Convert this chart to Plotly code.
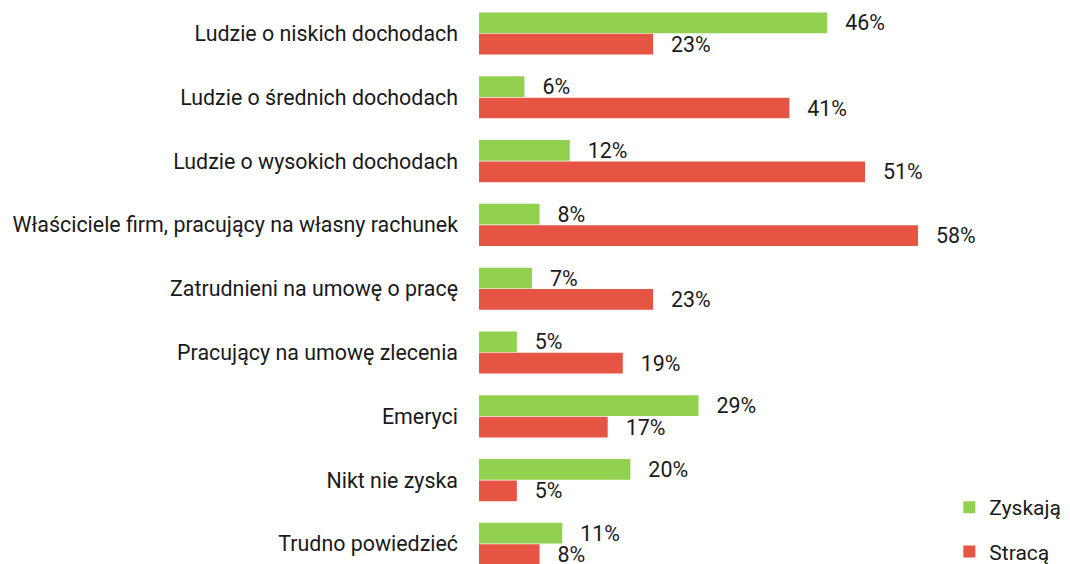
import plotly.graph_objects as go

categories = [
    "Ludzie o niskich dochodach",
    "Ludzie o średnich dochodach",
    "Ludzie o wysokich dochodach",
    "Właściciele firm, pracujący na własny rachunek",
    "Zatrudnieni na umowę o pracę",
    "Pracujący na umowę zlecenia",
    "Emeryci",
    "Nikt nie zyska",
    "Trudno powiedzieć",
]
zyskaja = [46, 6, 12, 8, 7, 5, 29, 20, 11]
straca = [23, 41, 51, 58, 23, 19, 17, 5, 8]

GREEN = "#92D050"
RED = "#E65443"
FONT = "Roboto"
FS = 21.4
pad = "\u00a0\u00a0\u2009"

fig = go.Figure()
fig.add_trace(go.Bar(
    y=categories, x=zyskaja, orientation="h", name="Zyskają",
    marker=dict(color=GREEN, line=dict(width=0)),
    text=[f"{pad}{v}%" for v in zyskaja], textposition="outside",
    constraintext="none",
    textfont=dict(family=FONT, size=FS, color="#1a1a1a"),
    cliponaxis=False, legendgroup="a",
))
fig.add_trace(go.Bar(
    y=categories, x=straca, orientation="h", name="Stracą",
    marker=dict(color=RED, line=dict(width=0)),
    text=[f"{pad}{v}%" for v in straca], textposition="outside",
    constraintext="none",
    textfont=dict(family=FONT, size=FS, color="#1a1a1a"),
    cliponaxis=False, legendgroup="b",
))

fig.update_layout(
    width=1070, height=564,
    barmode="group", bargap=0.33, bargroupgap=0.03,
    plot_bgcolor="white", paper_bgcolor="white",
    font=dict(family=FONT, size=FS, color="#1a1a1a"),
    margin=dict(l=471, r=107, t=0, b=0),
    showlegend=True,
    legend=dict(x=0.956, xanchor="left", y=0.0, yanchor="bottom",
                traceorder="grouped", tracegroupgap=14,
                font=dict(family=FONT, size=21, color="#1a1a1a"),
                itemwidth=30, bgcolor="rgba(0,0,0,0)"),
)
fig.update_xaxes(range=[0, 65], visible=False, fixedrange=True)
fig.update_yaxes(type="category", range=[8.44, -0.40], showgrid=False,
                 showline=False, ticks="", ticklabelstandoff=20,
                 tickfont=dict(family=FONT, size=FS, color="#1a1a1a"),
                 automargin=False)

fig.write_html("out.html")
